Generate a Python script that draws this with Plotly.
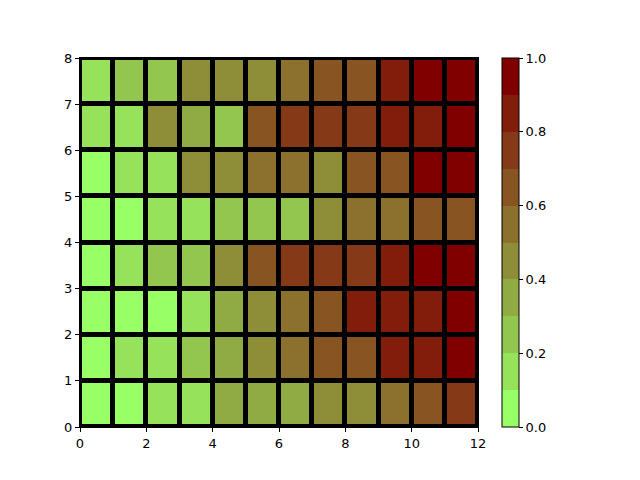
import plotly.graph_objects as go

# grid values (rows from y=0 upward, columns x=0..11)
row0 = [0.05, 0.05, 0.15, 0.15, 0.35, 0.35, 0.35, 0.45, 0.45, 0.55, 0.65, 0.75]
row1 = [0.05, 0.15, 0.15, 0.25, 0.35, 0.45, 0.55, 0.65, 0.65, 0.85, 0.85, 0.95]
row2 = [0.05, 0.05, 0.05, 0.15, 0.35, 0.45, 0.55, 0.65, 0.85, 0.85, 0.85, 0.95]
row3 = [0.05, 0.15, 0.25, 0.25, 0.45, 0.65, 0.75, 0.75, 0.75, 0.85, 0.95, 0.95]
row4 = [0.05, 0.05, 0.15, 0.15, 0.25, 0.25, 0.25, 0.45, 0.55, 0.55, 0.65, 0.65]
row5 = [0.05, 0.15, 0.15, 0.45, 0.45, 0.55, 0.55, 0.45, 0.65, 0.65, 0.95, 0.95]
row6 = [0.15, 0.15, 0.45, 0.35, 0.25, 0.65, 0.75, 0.75, 0.75, 0.85, 0.85, 0.95]
row7 = [0.15, 0.25, 0.25, 0.45, 0.45, 0.45, 0.55, 0.65, 0.65, 0.85, 0.95, 0.95]
x_edges = list(range(13))
y_edges = list(range(9))
x_ticks = [0, 2, 4, 6, 8, 10, 12]
y_ticks = [0, 1, 2, 3, 4, 5, 6, 7, 8]
cbar_ticks = [0.0, 0.2, 0.4, 0.6, 0.8, 1.0]
n_levels = 10

z = [row0, row1, row2, row3, row4, row5, row6, row7]

c0 = (0.6, 1.0, 0.4)
c1 = (0.5, 0.0, 0.0)
colorscale = []
for k in range(n_levels):
    t = k / (n_levels - 1)
    r, g, b = [int(round(255 * (a + (bb - a) * t))) for a, bb in zip(c0, c1)]
    col = f"rgb({r},{g},{b})"
    colorscale.append([k / n_levels, col])
    colorscale.append([(k + 1) / n_levels, col])

fig = go.Figure(go.Heatmap(
    z=z, x=x_edges, y=y_edges, zmin=0, zmax=1,
    colorscale=colorscale, xgap=5, ygap=5,
    colorbar=dict(
        x=1.06, xanchor="left", y=0.5, yanchor="middle", len=1, lenmode="fraction",
        xpad=0, ypad=0,
        thickness=17, outlinecolor="black", outlinewidth=1,
        tickvals=cbar_ticks, ticktext=[f"{v:.1f}" for v in cbar_ticks],
        ticks="outside", ticklen=4, tickcolor="black",
        tickfont=dict(family="DejaVu Sans", size=13, color="black"),
    ),
))

fig.update_layout(
    width=632, height=472,
    margin=dict(l=72, r=162, t=50, b=53),
    paper_bgcolor="white", plot_bgcolor="black",
    font=dict(family="DejaVu Sans", size=13, color="black"),
)
fig.update_xaxes(range=[0, 12], tickvals=x_ticks, ticks="outside", ticklen=4,
                 tickcolor="black", showgrid=False, zeroline=False,
                 showline=True, linecolor="black", linewidth=1, mirror=True)
fig.update_yaxes(range=[0, 8], tickvals=y_ticks, ticks="outside", ticklen=4,
                 tickcolor="black", showgrid=False, zeroline=False,
                 showline=True, linecolor="black", linewidth=1, mirror=True)

fig.write_html("out.html")
